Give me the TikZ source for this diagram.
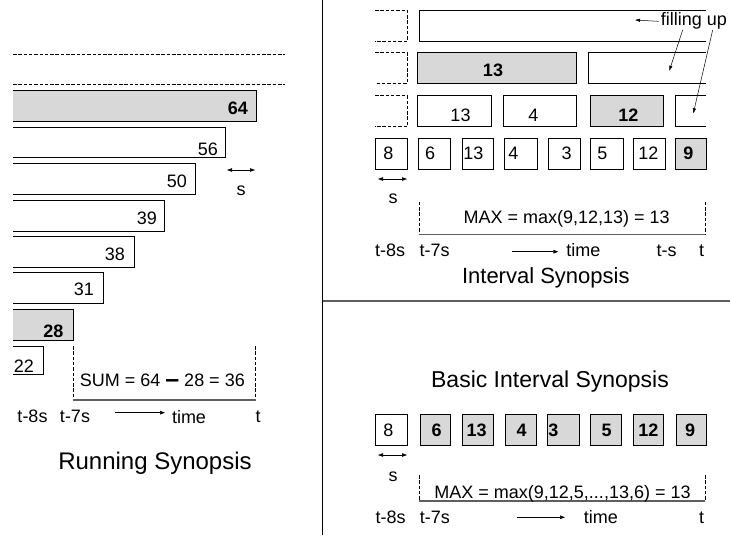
\documentclass[tikz,border=0pt]{standalone}
\usepackage{fontspec}
\setmainfont{Liberation Sans}
\usetikzlibrary{arrows.meta}
\definecolor{boxgrey}{RGB}{216,216,216}
\definecolor{rulegrey}{RGB}{95,95,95}
\begin{document}
\begin{tikzpicture}[x=1pt,y=-1pt,
  lbl/.style={inner sep=0pt, anchor=base, font=\fontsize{18}{20}\selectfont},
  blbl/.style={lbl, font=\fontsize{18}{20}\selectfont\bfseries},
  ttl/.style={inner sep=0pt, anchor=base},
  cell/.style={draw, line width=0.8pt, inner sep=0pt, minimum height=31pt, minimum width=#1},
  gcell/.style={cell=#1, fill=boxgrey},
  bar/.style={draw, line width=0.8pt},
  gbar/.style={bar, fill=boxgrey},
  dashln/.style={line width=0.6pt, dash pattern=on 3.5pt off 1.8pt},
  baseln/.style={line width=1.2pt, draw=rulegrey},
  tarr/.style={line width=0.6pt, -{Triangle[length=5pt,width=3.5pt]}},
  sarr/.style={line width=0.6pt, {Triangle[length=5pt,width=3.5pt]}-{Triangle[length=5pt,width=3.5pt]}},
  thinarr/.style={line width=0.5pt, -{Triangle[length=5pt,width=3pt]}}]
\useasboundingbox (0,0) rectangle (730,535);

% ---------------- Running Synopsis ----------------
\draw[dashln] (13,54) -- (285,54);
\draw[dashln] (13,84.3) -- (285,84.3);

\path[gbar] (13,90.3) -- (256,90.3) -- (256,121.3) -- (13,121.3);
\node[blbl, anchor=base east] (v64) at (248,114) {64};
\path[bar] (13,127.3) -- (225.3,127.3) -- (225.3,157.3) -- (13,157.3);
\node[lbl, anchor=base east] (v56) at (218,155.5) {56};
\path[bar] (13,163.3) -- (195,163.3) -- (195,194.3) -- (13,194.3);
\node[lbl, anchor=base east] (v50) at (187,187) {50};
\path[bar] (13,200.7) -- (164.3,200.7) -- (164.3,231) -- (13,231);
\node[lbl, anchor=base east] (v39) at (157,224) {39};
\path[bar] (13,236.7) -- (134.3,236.7) -- (134.3,267.3) -- (13,267.3);
\node[lbl, anchor=base east] (v38) at (125,260.5) {38};
\path[bar] (13,272.7) -- (103.7,272.7) -- (103.7,303.3) -- (13,303.3);
\node[lbl, anchor=base east] (v31) at (94,295.5) {31};
\path[gbar] (13,309.3) -- (73.3,309.3) -- (73.3,340) -- (13,340);
\node[blbl, anchor=base east] (v28) at (63.5,337.5) {28};
\path[bar] (13,346) -- (43,346) -- (43,374) -- (13,374);
\node[lbl, anchor=base east] (v22) at (34,372) {22};

\coordinate (sl1) at (227,170);
\coordinate (sl2) at (255,170);
\draw[sarr] (sl1) -- (sl2);
\node[lbl] (sL) at (241,195) {s};

\coordinate (wl1) at (73.3,346);
\coordinate (wl2) at (73.3,400);
\coordinate (wr1) at (255.7,346);
\coordinate (wr2) at (255.7,400);
\draw[dashln] (wl1) -- (wl2);
\draw[dashln] (wr1) -- (wr2);
\draw[baseln] (wl2) -- (wr2);
\node[lbl] (sum) at (162.3,386.7) {SUM = 64 \raisebox{-1pt}{\fontsize{25}{25}\selectfont\bfseries –} 28 = 36};

\node[lbl] (l8s) at (32.5,422) {t-8s};
\node[lbl] (l7s) at (75,422) {t-7s};
\coordinate (la1) at (115,412.7);
\coordinate (la2) at (165,412.7);
\draw[tarr] (la1) -- (la2);
\node[lbl] (ltime) at (189,423) {time};
\node[lbl] (lt) at (258,422) {t};
\node[ttl, font=\fontsize{24}{26}\selectfont] (rtitle) at (155,469.3) {Running Synopsis};

% ---------------- separators ----------------
\coordinate (vtop) at (322.7,0);
\coordinate (vbot) at (322.7,535);
\draw[line width=0.8pt] (vtop) -- (vbot);
\coordinate (hl) at (322.7,301);
\coordinate (hr) at (730,301);
\draw[baseln] (hl) -- (hr);

% ---------------- Interval Synopsis ----------------
% row A
\draw[dashln] (375,10.3) -- (407.3,10.3) -- (407.3,41.3) -- (375,41.3);
\draw[line width=0.8pt] (706,10.3) -- (419.3,10.3) -- (419.3,41.3) -- (706,41.3);
% row B
\draw[dashln] (375,52.7) -- (407.3,52.7) -- (407.3,83.3) -- (375,83.3);
\node[gcell=159pt, minimum height=30.6pt] (b13) at (497.2,68) {};
\node[blbl] (tb13) at (493,76.7) {13};
\draw[line width=0.8pt] (706,52.7) -- (588.3,52.7) -- (588.3,83.3) -- (706,83.3);
% row C
\draw[dashln] (375,95.7) -- (407.3,95.7) -- (407.3,126.7) -- (375,126.7);
\node[cell=74.4pt] (c13) at (454.5,111.2) {};
\node[lbl] (tc13) at (460.5,121.7) {13};
\node[cell=72.7pt] (c4) at (539.7,111.2) {};
\node[lbl] (tc4) at (533.3,121.7) {4};
\node[gcell=73.3pt] (c12) at (626.7,111.2) {};
\node[blbl] (tc12) at (628.3,121.7) {12};
\draw[line width=0.8pt] (706,95.7) -- (675,95.7) -- (675,126.7) -- (706,126.7);
% row D
\node[cell=31.3pt] (d8) at (391.5,153.7) {};
\node[lbl] (td8) at (388.3,159.3) {8};
\node[cell=32pt] (d6) at (434,153.7) {};
\node[lbl] (td6) at (430,159.3) {6};
\node[cell=31pt] (d13) at (477.5,153.7) {};
\node[lbl] (td13) at (473.3,159.3) {13};
\node[cell=33pt] (d4) at (520.5,153.7) {};
\node[lbl] (td4) at (513.3,159.3) {4};
\node[cell=32pt] (d3) at (564,153.7) {};
\node[lbl] (td3) at (566.7,159.3) {3};
\node[cell=33pt] (d5) at (606.5,153.7) {};
\node[lbl] (td5) at (602.3,159.3) {5};
\node[cell=32pt] (d12) at (649,153.7) {};
\node[lbl] (td12) at (648.3,159.3) {12};
\node[gcell=31pt] (d9) at (690.5,153.7) {};
\node[blbl] (td9) at (688.3,159.3) {9};

% filling up
\node[lbl, anchor=base west] (fill) at (660.7,26) {filling up};
\coordinate (fa1) at (635,20);
\coordinate (fa2) at (669.3,70.7);
\coordinate (fa3) at (693.3,113.3);
\draw[thinarr] ([xshift=-2pt]fill.west) -- (fa1);
\draw[thinarr] ([xshift=22pt]fill.south west) -- (fa2);
\draw[thinarr] ([xshift=52pt]fill.south west) -- (fa3);

\coordinate (sr1) at (378,179);
\coordinate (sr2) at (407,179);
\draw[sarr] (sr1) -- (sr2);
\node[lbl] (sR) at (393,203) {s};

\coordinate (iwl1) at (419.3,201.7);
\coordinate (iwl2) at (419.3,234.3);
\coordinate (iwr1) at (705,201.7);
\coordinate (iwr2) at (705,234.3);
\draw[dashln] (iwl1) -- (iwl2);
\draw[dashln] (iwr1) -- (iwr2);
\draw[baseln] (iwl2) -- (iwr2);
\node[lbl] (imax) at (566.7,223.5) {MAX = max(9,12,13) = 13};

\node[lbl] (i8s) at (390,256.7) {t-8s};
\node[lbl] (i7s) at (434.5,256.7) {t-7s};
\coordinate (ia1) at (511.7,251.7);
\coordinate (ia2) at (558.3,251.7);
\draw[tarr] (ia1) -- (ia2);
\node[lbl] (itime) at (583.3,256.7) {time};
\node[lbl] (its) at (666.7,256.7) {t-s};
\node[lbl] (it) at (701.7,256.7) {t};
\node[ttl, font=\fontsize{22}{24}\selectfont] (ititle) at (545.8,283.3) {Interval Synopsis};

% ---------------- Basic Interval Synopsis ----------------
\node[ttl, font=\fontsize{23}{25}\selectfont] (btitle) at (550,387.3) {Basic Interval Synopsis};

\node[cell=31.6pt] (e8) at (391.5,429.5) {};
\node[lbl] (te8) at (388.3,436.7) {8};
\node[gcell=30.7pt] (e6) at (435.3,429.5) {};
\node[blbl] (te6) at (436.7,436.7) {6};
\node[gcell=30.6pt] (e13) at (478,429.5) {};
\node[blbl] (te13) at (476.7,436.7) {13};
\node[gcell=31.7pt] (e4) at (520.8,429.5) {};
\node[blbl] (te4) at (521.7,436.7) {4};
\node[gcell=31.6pt] (e3) at (563.5,429.5) {};
\node[blbl] (te3) at (553.3,436.7) {3};
\node[gcell=31.7pt] (e5) at (605.8,429.5) {};
\node[blbl] (te5) at (606.7,436.7) {5};
\node[gcell=30pt] (e12) at (648.3,429.5) {};
\node[blbl] (te12) at (648.3,436.7) {12};
\node[gcell=30pt] (e9) at (691,429.5) {};
\node[blbl] (te9) at (690,436.7) {9};

\coordinate (sb1) at (378,455);
\coordinate (sb2) at (407,455);
\draw[sarr] (sb1) -- (sb2);
\node[lbl] (sB) at (393,481.7) {s};

\coordinate (bwl1) at (419.3,475);
\coordinate (bwl2) at (419.3,501);
\coordinate (bwr1) at (705.3,475);
\coordinate (bwr2) at (705.3,501);
\draw[dashln] (bwl1) -- (bwl2);
\draw[dashln] (bwr1) -- (bwr2);
\draw[baseln] (bwl2) -- (bwr2);
\node[lbl] (bmax) at (562.5,498.3) {MAX = max(9,12,5,...,13,6) = 13};

\node[lbl] (b8s) at (390.5,523.3) {t-8s};
\node[lbl] (b7s) at (434.8,523.3) {t-7s};
\coordinate (ba1) at (516.7,517.3);
\coordinate (ba2) at (565,517.3);
\draw[tarr] (ba1) -- (ba2);
\node[lbl] (btime) at (600.8,523.3) {time};
\node[lbl] (bt) at (701.7,523.3) {t};
\end{tikzpicture}
\end{document}
